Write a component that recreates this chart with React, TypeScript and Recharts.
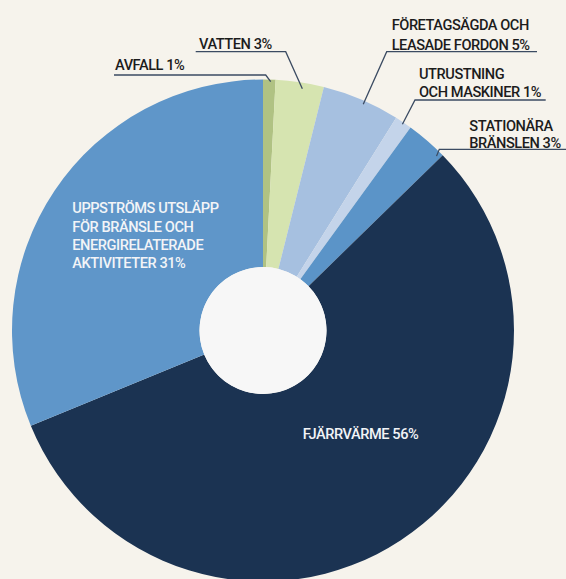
import React from 'react';
import { PieChart, Pie, Cell } from 'recharts';

// ---- data ----
const categories = [
  'AVFALL',
  'VATTEN',
  'FÖRETAGSÄGDA OCH LEASADE FORDON',
  'UTRUSTNING OCH MASKINER',
  'STATIONÄRA BRÄNSLEN',
  'FJÄRRVÄRME',
  'UPPSTRÖMS UTSLÄPP FÖR BRÄNSLE OCH ENERGIRELATERADE AKTIVITETER',
];
// slice sizes (share of total, %)
const shares = [0.8, 3.1, 5.0, 1.1, 2.7, 56.1, 31.2];
// rounded percentages printed in the labels
const labelPercents = [1, 3, 5, 1, 3, 56, 31];
// label text split into lines (percentage appended to the last line)
const labelLines = [
  ['AVFALL'],
  ['VATTEN'],
  ['FÖRETAGSÄGDA OCH', 'LEASADE FORDON'],
  ['UTRUSTNING', 'OCH MASKINER'],
  ['STATIONÄRA', 'BRÄNSLEN'],
  ['FJÄRRVÄRME'],
  ['UPPSTRÖMS UTSLÄPP', 'FÖR BRÄNSLE OCH', 'ENERGIRELATERADE', 'AKTIVITETER'],
];

// ---- styles ----
const colors = ['#b0c283', '#d6e4b0', '#a6c0e0', '#c4d4ea', '#5b94c8', '#1b3352', '#5f96c9'];
const BG = '#f6f3ec';
const HOLE = '#f7f7f7';
const LINE = '#3b4b62';
const FONT = 'Roboto, "Noto Sans", sans-serif';

// label layout relative to the pie centre
type Layout = {
  inside: boolean;
  shift?: number; // clockwise angle shift of the leader anchor (deg)
  rOff?: number; // anchor distance inside the outer edge
  elbow?: [number, number];
  endX?: number;
  textX: number;
  baselines: number[];
};
const layouts: Layout[] = [
  { inside: false, shift: 0.33, rOff: 2, elbow: [2.7, -255.5], endX: -149, textX: -148, baselines: [-260.5] },
  { inside: false, shift: 0.78, rOff: 6, elbow: [22.7, -278.8], endX: -67.3, textX: -64, baselines: [-281.5] },
  { inside: false, shift: 0.86, rOff: 3.6, elbow: [123.7, -278.8], endX: 274, textX: 128.7, baselines: [-300.5, -280.5] },
  { inside: false, shift: 0.03, rOff: 2, elbow: [152, -230.5], endX: 282.7, textX: 156, baselines: [-251.5, -233.2] },
  { inside: false, shift: 4.0, rOff: 5, elbow: [176.3, -181.2], endX: 303, textX: 206.3, baselines: [-199.8, -182.2] },
  { inside: true, textX: 39.7, baselines: [108.5] },
  { inside: true, textX: -190.7, baselines: [-117.2, -99, -81, -63] },
];

const data = categories.map((name, i) => ({ name, value: shares[i] }));
const hole = [{ name: 'hole', value: 1 }];

const RAD = Math.PI / 180;

const renderLabel = (props: any) => {
  const { cx, cy, midAngle, outerRadius, index } = props;
  const L = layouts[index];
  const lines = labelLines[index].slice();
  lines[lines.length - 1] = `${lines[lines.length - 1]} ${labelPercents[index]}%`;
  const texts = lines.map((t, k) => (
    <text
      key={k}
      x={cx + L.textX}
      y={cy + L.baselines[k]}
      fill={L.inside ? '#f2f4f7' : '#1c1c1c'}
      fontSize={14.6}
      fontWeight={500}
      letterSpacing={-0.45}
      fontFamily={FONT}
      textAnchor="start"
    >
      {t}
    </text>
  ));
  if (L.inside) return <g key={`lbl-${index}`}>{texts}</g>;
  const a = (midAngle - (L.shift || 0)) * RAD;
  const r = outerRadius - (L.rOff || 0);
  const ax = cx + r * Math.cos(a);
  const ay = cy - r * Math.sin(a);
  const ex = cx + L.elbow![0];
  const ey = cy + L.elbow![1];
  const hx = cx + L.endX!;
  return (
    <g key={`lbl-${index}`}>
      <polyline
        points={`${ax},${ay} ${ex},${ey} ${hx},${ey}`}
        fill="none"
        stroke={LINE}
        strokeWidth={1.3}
      />
      {texts}
    </g>
  );
};

export default function App() {
  return (
    <div style={{ position: 'absolute', left: 0, top: 0, width: 566, height: 579, background: BG, overflow: 'hidden' }}>
      <PieChart width={566} height={579} margin={{ top: 0, right: 0, bottom: 0, left: 0 }}>
        <Pie
          data={data}
          dataKey="value"
          nameKey="name"
          cx={263}
          cy={330.5}
          innerRadius={63.5}
          outerRadius={251}
          startAngle={90}
          endAngle={-270}
          stroke="none"
          labelLine={false}
          label={renderLabel}
          isAnimationActive={false}
        >
          {data.map((d, i) => (
            <Cell key={d.name} fill={colors[i]} stroke="none" />
          ))}
        </Pie>
        <Pie
          data={hole}
          dataKey="value"
          cx={263}
          cy={330.5}
          innerRadius={0}
          outerRadius={63.5}
          fill={HOLE}
          stroke="none"
          isAnimationActive={false}
        />
      </PieChart>
    </div>
  );
}
